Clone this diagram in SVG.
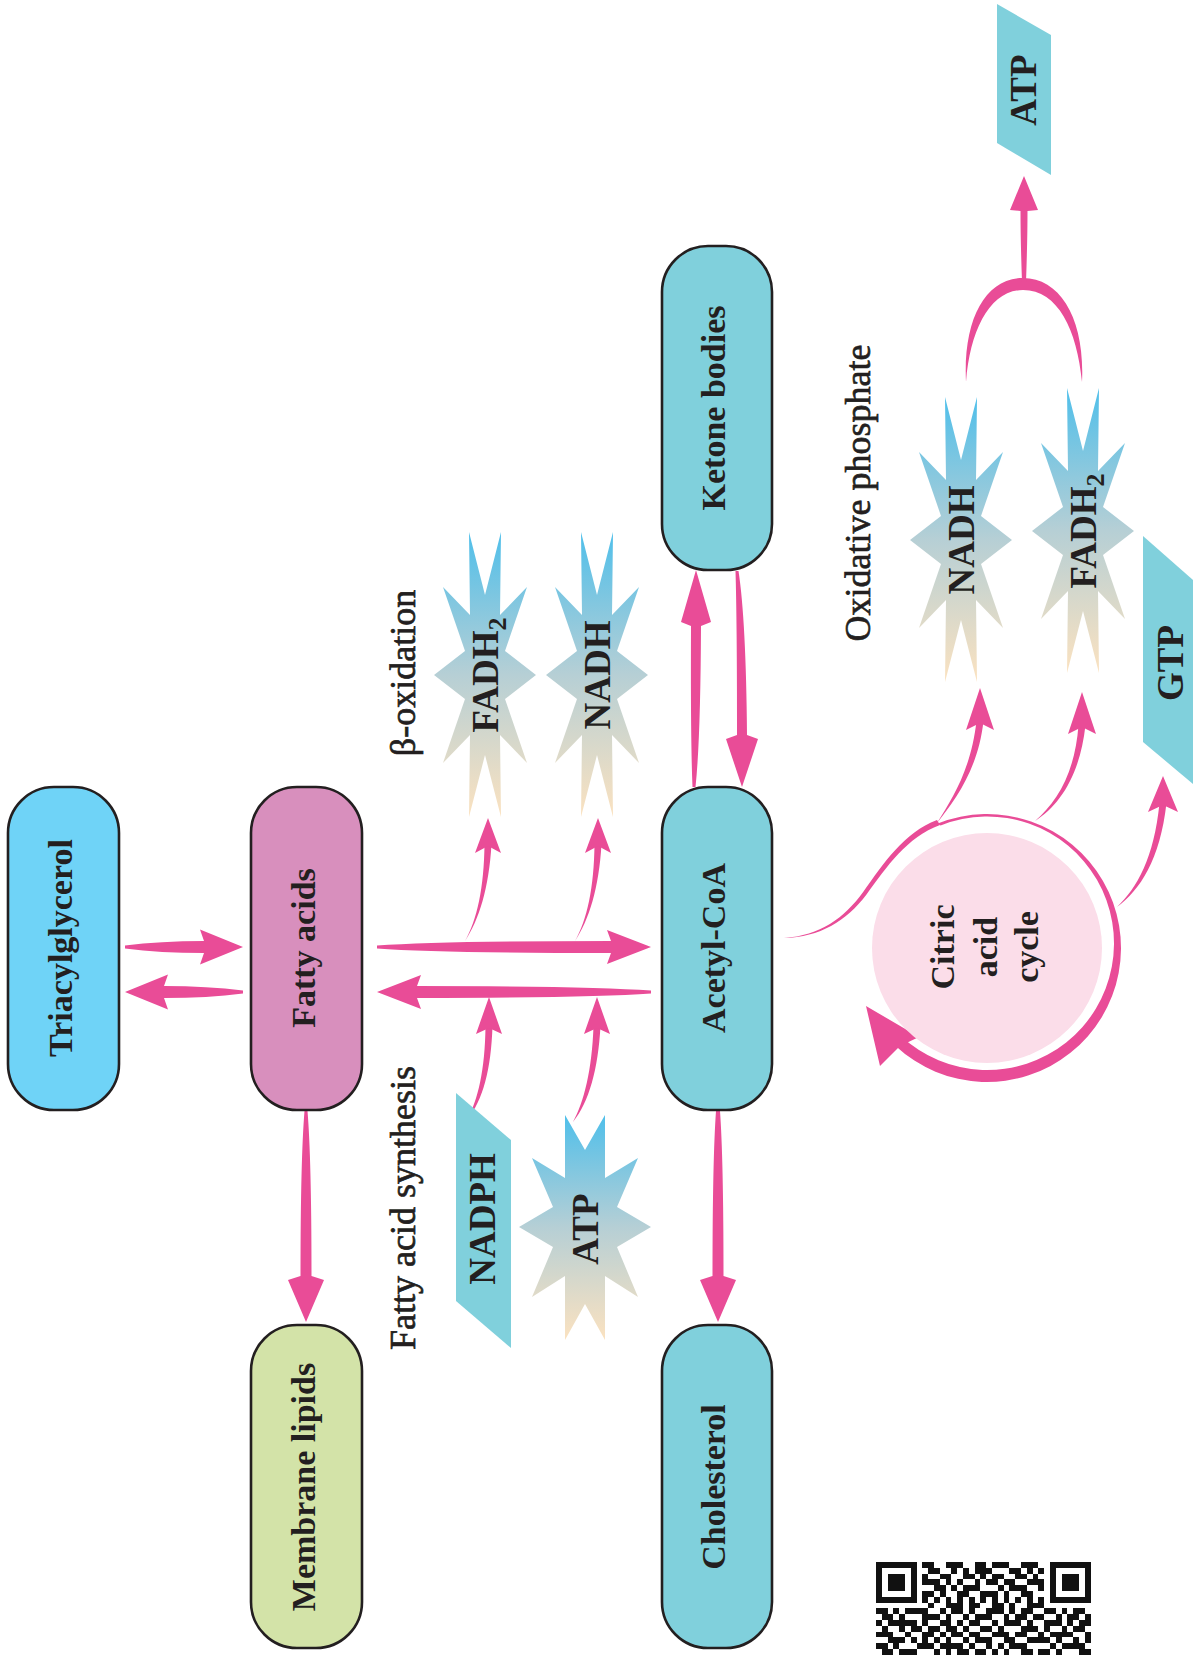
<svg xmlns="http://www.w3.org/2000/svg" width="1193" height="1655" viewBox="0 0 1193 1655">
<style>
.node{stroke:#231f20;stroke-width:2.6}
.t{font-family:"Liberation Serif","Times New Roman",serif;font-weight:bold;font-size:34px;fill:#231f20;text-anchor:middle}
.st{font-family:"Liberation Serif","Times New Roman",serif;font-weight:bold;font-size:37px;fill:#231f20;text-anchor:middle}
.lab{font-family:"Liberation Serif","Times New Roman",serif;font-size:36px;fill:#231f20;stroke:#231f20;stroke-width:0.7;text-anchor:middle}
.pk{fill:#e94c97}
.teal{fill:#80d0dc}
</style>
<defs>
<linearGradient id="sg" x1="0" y1="0" x2="0" y2="1">
<stop offset="0" stop-color="#4fbfea"/>
<stop offset="0.5" stop-color="#b6cfd5"/>
<stop offset="1" stop-color="#fbe2c0"/>
</linearGradient>
<polygon id="starA" fill="url(#sg)" points="-16,-143 0,-80 16,-143 15,-60 42,-88 20,-24 51,0 20,24 42,88 15,60 16,142 0,80 -16,142 -15,60 -42,88 -20,24 -51,0 -20,-24 -42,-88 -15,-60"/>
<polygon id="starB" fill="url(#sg)" points="-20,-112 0,-77 20,-112 20,-49 53,-69 32,-20 66,0 32,20 53,70 20,49 20,113 0,77 -20,113 -20,49 -53,70 -32,20 -66,0 -32,-20 -53,-69 -20,-49"/>
</defs>
<rect width="1193" height="1655" fill="#ffffff"/>

<g id="connectors">
<!-- Triacylglycerol <-> Fatty acids -->
<path class="pk" d="M125,945.5 Q160,941 204,941 L200,929.5 L243,947 L200,964.5 L204,953 Q160,953 125,948.5 Z"/>
<path class="pk" d="M243,990.5 Q208,986 164,986 L168,974.5 L125,992 L168,1009.5 L164,998 Q208,998 243,993.5 Z"/>
<!-- Fatty acids -> Membrane lipids -->
<path class="pk" d="M304.5,1111 Q300.5,1160 300.5,1276 L288,1280 L306,1322 L324,1280 L311.5,1276 Q311.5,1160 307.5,1111 Z"/>
<!-- Acetyl-CoA -> Cholesterol -->
<path class="pk" d="M716,1111 Q712.5,1160 712.5,1276 L700,1280 L718,1322 L736,1280 L723.5,1276 Q723.5,1160 720,1111 Z"/>
<!-- Acetyl-CoA -> Ketone bodies -->
<path class="pk" d="M692.5,787 Q690.5,740 691,626 L681,622 L696,570 L711,622 L701,626 Q700.5,740 695.5,787 Z"/>
<!-- Ketone bodies -> Acetyl-CoA -->
<path class="pk" d="M735.5,571 Q737,620 737,735 L726,739 L742,787 L758,739 L747,735 Q746,620 738.5,571 Z"/>
<!-- beta-oxidation: Fatty acids -> Acetyl-CoA -->
<path class="pk" d="M377,945.5 Q440,941 611,941 L607,930 L651,947 L607,964 L611,953 Q440,953 377,948.5 Z"/>
<!-- synthesis: Acetyl-CoA -> Fatty acids -->
<path class="pk" d="M651,990.5 Q588,986 417,986 L421,975 L377,992 L421,1009 L417,998 Q588,998 651,993.5 Z"/>
<!-- small curves beta -->
<path class="pk" d="M465,941 C479,920 489,888 491.5,844 L484.5,844 C484,888 477,920 465,941 Z"/>
<polygon class="pk" points="488,818 501,853 488,846 475,853"/>
<path class="pk" d="M575,941 C589,920 599,888 601.5,844 L594.5,844 C594,888 587,920 575,941 Z"/>
<polygon class="pk" points="598,818 611,853 598,846 585,853"/>
<!-- small curves synthesis -->
<path class="pk" d="M467,1120 C483,1100 491,1070 492.5,1026 L485.5,1026 C485,1070 478,1100 467,1120 Z"/>
<polygon class="pk" points="489,997 502,1034 489,1028 476,1034"/>
<path class="pk" d="M573,1122 C589,1102 598,1070 600.5,1026 L593.5,1026 C592,1070 584,1102 573,1122 Z"/>
<polygon class="pk" points="597,997 610,1034 597,1028 584,1034"/>
<!-- Acetyl-CoA to citric acid cycle -->
<path class="pk" d="M784,938 C820,935.5 844,918.5 863.5,891.5 C883.5,863.5 904,832.5 937,820 L940,825 C907,837 887,866.5 866.5,894.5 C846,921.5 820,937 784,938 Z"/>
<!-- cycle ring -->
<path class="pk" d="M937.7,823.4 A134,134 0 1 1 895.6,1046 L900.8,1036 A126.75,126.75 0 1 0 940.6,825.45 Z"/>
<polygon class="pk" points="866,1006 919,1037 900,1046 880,1066"/>
<!-- cycle -> NADH, FADH2, GTP -->
<path class="pk" d="M937,823 C955,800 978,770 983.5,721 L976.5,721 C971,770 952,799 937,823 Z"/>
<polygon class="pk" points="980,688 994,730 980,723 966,730"/>
<path class="pk" d="M1035,821 C1060,805 1080,775 1085.5,725 L1078.5,725 C1075,773 1057,802 1035,821 Z"/>
<polygon class="pk" points="1082,692 1096,734 1082,727 1068,734"/>
<path class="pk" d="M1117,907 C1140,890 1160,860 1166.5,803 L1159.5,803 C1154,858 1137,888 1117,907 Z"/>
<polygon class="pk" points="1163,776 1178,812 1163,805 1148,812"/>
<!-- oxidative phosphorylation arch and ATP arrow -->
<path class="pk" d="M966,382 C963,320 985,278 1023,278 C1061,278 1085,320 1082,382 C1077,330 1058,290 1023,290 C990,290 970,330 966,382 Z"/>
<path class="pk" d="M1022,282 Q1020.5,240 1020.5,211 L1010,210 L1024,176 L1038,210 L1027.5,211 Q1027.5,240 1026,282 Z"/>
</g>

<g id="triacylglycerol">
<rect class="node" x="8" y="787" width="111" height="323" rx="46" fill="#6fd3f7"/>
<text class="t" transform="translate(72,948) rotate(-90)">Triacylglycerol</text>
</g>
<g id="fatty-acids">
<rect class="node" x="251" y="787" width="111" height="323" rx="46" fill="#d88fbd"/>
<text class="t" transform="translate(315,948) rotate(-90)">Fatty acids</text>
</g>
<g id="membrane-lipids">
<rect class="node" x="251" y="1325" width="111" height="323" rx="46" fill="#d3e3a8"/>
<text class="t" transform="translate(315,1487) rotate(-90)">Membrane lipids</text>
</g>
<g id="ketone-bodies">
<rect class="node" x="662" y="246" width="110" height="324" rx="46" fill="#80d0dc"/>
<text class="t" transform="translate(725,408) rotate(-90)">Ketone bodies</text>
</g>
<g id="acetyl-coa">
<rect class="node" x="662" y="787" width="110" height="323" rx="46" fill="#80d0dc"/>
<text class="t" transform="translate(725,948) rotate(-90)">Acetyl-CoA</text>
</g>
<g id="cholesterol">
<rect class="node" x="662" y="1325" width="110" height="323" rx="46" fill="#80d0dc"/>
<text class="t" transform="translate(725,1487) rotate(-90)">Cholesterol</text>
</g>

<g id="label-beta-oxidation">
<text class="lab" transform="translate(415,673) rotate(-90)">β-oxidation</text>
</g>
<g id="label-fatty-acid-synthesis">
<text class="lab" transform="translate(415,1208) rotate(-90)">Fatty acid synthesis</text>
</g>
<g id="label-oxidative">
<text class="lab" transform="translate(870,493) rotate(-90)">Oxidative phosphate</text>
</g>

<g id="beta-fadh2">
<use href="#starA" transform="translate(485,675)"/>
<text class="st" transform="translate(498,675) rotate(-90)">FADH<tspan font-size="26" dy="8">2</tspan></text>
</g>
<g id="beta-nadh">
<use href="#starA" transform="translate(597,675)"/>
<text class="st" transform="translate(610,675) rotate(-90)">NADH</text>
</g>
<g id="synth-nadph">
<polygon class="teal" points="456,1093 511,1140 511,1348 456,1301"/>
<text class="st" transform="translate(495,1219) rotate(-90)">NADPH</text>
</g>
<g id="synth-atp">
<use href="#starB" transform="translate(585,1227)"/>
<text class="st" transform="translate(598,1229) rotate(-90)">ATP</text>
</g>
<g id="citric-acid-cycle">
<circle cx="987" cy="948" r="115" fill="#fbdde9"/>
<text class="t" transform="translate(954,947) rotate(-90)">Citric</text>
<text class="t" transform="translate(997,947) rotate(-90)">acid</text>
<text class="t" transform="translate(1038,947) rotate(-90)">cycle</text>
</g>
<g id="ox-nadh">
<use href="#starA" transform="translate(961,540)"/>
<text class="st" transform="translate(974,540) rotate(-90)">NADH</text>
</g>
<g id="ox-fadh2">
<use href="#starA" transform="translate(1083,531)"/>
<text class="st" transform="translate(1096,531) rotate(-90)">FADH<tspan font-size="26" dy="8">2</tspan></text>
</g>
<g id="gtp">
<polygon class="teal" points="1143,536 1193,580 1193,784 1143,742"/>
<text class="st" transform="translate(1183,663) rotate(-90)">GTP</text>
</g>
<g id="atp-out">
<polygon class="teal" points="997,4 1051,35 1051,175 997,143"/>
<text class="st" transform="translate(1036,90) rotate(-90)">ATP</text>
</g>

<g id="qr" transform="translate(876,1562) scale(5.8)" fill="#111111" shape-rendering="crispEdges">
<path fill-rule="evenodd" d="M0 0h7v7h-7z M1 1v5h5v-5z M2 2h3v3h-3z M30 0h7v7h-7z M31 1v5h5v-5z M32 2h3v3h-3z"/>
<path d="M8 0h2v1h-2z M12 0h3v1h-3z M17 0h2v1h-2z M20 0h3v1h-3z M25 0h3v1h-3z
M9 1h2v1h-2z M13 1h1v1h-1z M15 1h1v1h-1z M17 1h3v1h-3z M23 1h2v1h-2z M26 1h1v1h-1z M28 1h1v1h-1z
M8 2h1v1h-1z M11 2h2v1h-2z M15 2h2v1h-2z M18 2h1v1h-1z M20 2h2v1h-2z M24 2h2v1h-2z M27 2h1v1h-1z
M8 3h3v1h-3z M12 3h1v1h-1z M14 3h1v1h-1z M17 3h1v1h-1z M19 3h2v1h-2z M22 3h2v1h-2z M26 3h3v1h-3z
M10 4h2v1h-2z M13 4h1v1h-1z M15 4h3v1h-3z M21 4h1v1h-1z M23 4h3v1h-3z M28 4h1v1h-1z
M8 5h2v1h-2z M11 5h1v1h-1z M14 5h2v1h-2z M18 5h3v1h-3z M22 5h1v1h-1z M25 5h2v1h-2z
M8 6h1v1h-1z M10 6h1v1h-1z M12 6h1v1h-1z M14 6h1v1h-1z M16 6h1v1h-1z M18 6h1v1h-1z M20 6h1v1h-1z M22 6h1v1h-1z M24 6h1v1h-1z M26 6h1v1h-1z M28 6h1v1h-1z
M9 7h1v1h-1z M12 7h3v1h-3z M16 7h2v1h-2z M20 7h2v1h-2z M23 7h1v1h-1z M26 7h3v1h-3z
M0 8h2v1h-2z M3 8h1v1h-1z M5 8h4v1h-4z M11 8h1v1h-1z M13 8h2v1h-2z M16 8h1v1h-1z M19 8h3v1h-3z M23 8h1v1h-1z M25 8h2v1h-2z M29 8h2v1h-2z M32 8h1v1h-1z M34 8h2v1h-2z
M1 9h2v1h-2z M4 9h1v1h-1z M8 9h3v1h-3z M12 9h1v1h-1z M15 9h1v1h-1z M17 9h3v1h-3z M22 9h1v1h-1z M24 9h2v1h-2z M27 9h2v1h-2z M31 9h1v1h-1z M33 9h2v1h-2z M36 9h1v1h-1z
M0 10h1v1h-1z M2 10h5v1h-5z M8 10h1v1h-1z M11 10h2v1h-2z M14 10h1v1h-1z M16 10h2v1h-2z M20 10h1v1h-1z M22 10h3v1h-3z M26 10h1v1h-1z M29 10h3v1h-3z M33 10h1v1h-1z M35 10h2v1h-2z
M1 11h1v1h-1z M4 11h1v1h-1z M6 11h2v1h-2z M9 11h2v1h-2z M12 11h2v1h-2z M15 11h1v1h-1z M18 11h2v1h-2z M21 11h1v1h-1z M25 11h3v1h-3z M29 11h1v1h-1z M32 11h1v1h-1z M34 11h2v1h-2z
M0 12h3v1h-3z M5 12h1v1h-1z M8 12h2v1h-2z M11 12h1v1h-1z M13 12h2v1h-2z M16 12h2v1h-2z M20 12h3v1h-3z M24 12h2v1h-2z M28 12h1v1h-1z M30 12h4v1h-4z M36 12h1v1h-1z
M2 13h3v1h-3z M6 13h1v1h-1z M8 13h1v1h-1z M10 13h1v1h-1z M12 13h1v1h-1z M15 13h1v1h-1z M17 13h3v1h-3z M22 13h2v1h-2z M26 13h4v1h-4z M31 13h1v1h-1z M34 13h1v1h-1z M36 13h1v1h-1z
M0 14h2v1h-2z M3 14h1v1h-1z M7 14h3v1h-3z M11 14h4v1h-4z M16 14h1v1h-1z M19 14h1v1h-1z M21 14h1v1h-1z M23 14h3v1h-3z M30 14h1v1h-1z M32 14h4v1h-4z
M1 15h2v1h-2z M4 15h3v1h-3z M10 15h1v1h-1z M12 15h1v1h-1z M14 15h2v1h-2z M17 15h2v1h-2z M20 15h1v1h-1z M22 15h1v1h-1z M25 15h2v1h-2z M28 15h2v1h-2z M31 15h1v1h-1z M35 15h2v1h-2z"/>
</g>
</svg>
